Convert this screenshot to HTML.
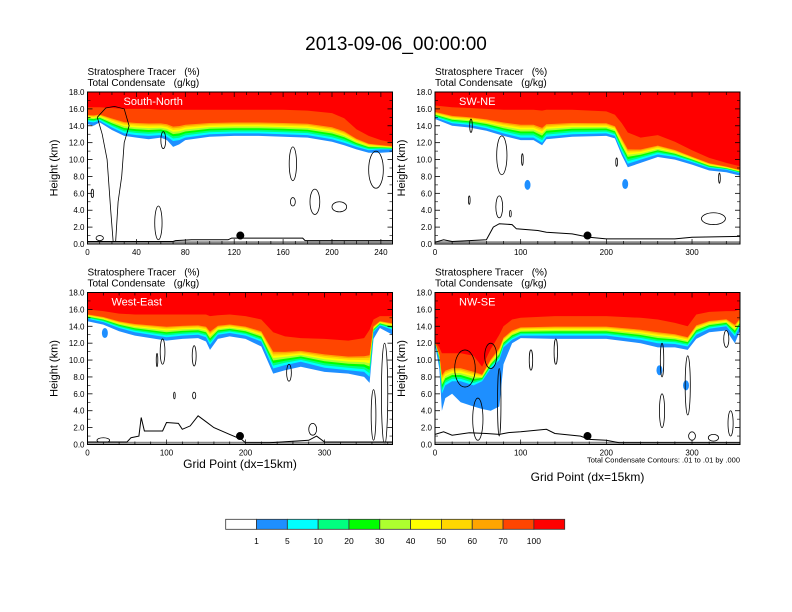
<!DOCTYPE html>
<html><head><meta charset="utf-8"><style>
html,body{margin:0;padding:0;background:#fff;}
svg{display:block;font-family:"Liberation Sans",Arial,sans-serif;}
text{white-space:pre;}
</style></head><body>
<svg id="fig" width="792" height="612" viewBox="0 0 792 612" xmlns="http://www.w3.org/2000/svg">
<text x="396" y="50" font-size="19" text-anchor="middle" fill="#000">2013-09-06_00:00:00</text>
<g id="panels"></g>
<g id="colorbar"></g>
</svg>
<script>
// ---- data ----
const levelLabels = ["1","5","10","20","30","40","50","60","70","100"];
const levelColors = ["#ffffff","#1e8fff","#00ffff","#00ff80","#00ff00","#adff2f","#ffff00","#ffd700","#ffa500","#ff4500","#ff0000"];
const bandFracs = [0,0.08,0.15,0.22,0.29,0.35,0.41,0.46];

const p1Xs   = [0,5,10,20,30,40,50,60,65,70,75,80,100,120,140,160,180,200,210,220,230,240,250];
const p1Base1= [14.2,14.0,14.4,13.5,12.8,12.6,12.4,12.6,12.3,11.5,11.8,12.3,12.7,12.8,12.8,12.7,12.6,12.1,11.7,11.2,10.8,10.8,10.9];
const p1Base2= [14.5,14.4,14.6,13.8,13.1,12.9,12.8,12.9,12.7,12.2,12.3,12.6,13.0,13.1,13.1,13.0,12.9,12.4,12.0,11.5,11.1,11.2,11.2];
const p1Top  = [16.2,16.2,16.2,16.1,16.0,16.0,16.0,15.9,15.9,15.9,15.9,15.9,15.9,15.9,15.9,15.9,15.8,15.5,14.9,13.6,12.8,12.3,12.0];
const p1TerrX= [0,70,72,85,115,118,176,178,250];
const p1TerrY= [0.3,0.3,0.4,0.5,0.5,0.7,0.7,0.4,0.4];
const p1Ell  = [[168,9.5,3,2],[168,5,2,0.5],[186,5,4,1.5],[206,4.4,6,0.6],[236,8.8,6,2.2],[10,0.7,3,0.3],[58,2.5,3,2],[62,12.3,2,1],[4,6,1,0.5]];
const p1CloudX=[8,15,22,30,34,30,28,25,23,21,19,16,12,8];
const p1CloudY=[15,16.1,16.3,16,14,12,8,5,0.2,0.2,4,10,13,15];

const p2Xs   = [0,20,40,60,80,100,115,125,130,160,200,210,218,225,240,260,280,300,320,340,356];
const p2Base1= [14.8,14.0,13.8,13.4,12.8,12.3,12.3,11.7,12.4,12.7,12.8,12.5,10.5,9.1,9.6,10.3,10.0,9.4,8.7,8.5,8.1];
const p2Base2= [15.0,14.3,14.1,13.7,13.1,12.6,12.6,12.0,12.7,13.0,13.1,12.8,10.9,9.5,10.0,10.6,10.3,9.7,9.0,8.8,8.4];
const p2Top  = [16.4,16.2,16.1,16.0,15.9,15.9,15.9,15.8,15.9,15.9,15.7,15.3,14.3,13.2,12.6,12.9,12.1,11.1,10.2,9.6,9.2];
const p2TerrX= [0,10,20,60,68,75,90,95,120,130,160,180,200,280,300,356];
const p2TerrY= [0.2,0.5,0.3,0.5,2.0,2.4,2.3,1.8,1.6,1.4,1.2,0.8,0.6,0.6,0.8,0.9];
const p2Ell  = [[78,10.5,6,2.3],[102,10,1,0.7],[212,9.7,1,0.5],[332,7.8,1,0.6],[40,5.2,1,0.5],[75,4.4,4,1.3],[88,3.6,1,0.4],[325,3,14,0.7],[42,14,1.5,0.8]];
const p2BlobX= [222,108];
const p2BlobY= [7.1,7.0];

const p3Xs   = [0,20,40,60,80,100,120,140,150,155,165,180,200,220,235,250,270,300,330,350,357,362,370,386];
const p3Base1= [14.6,14.2,13.4,12.9,12.6,12.3,12.5,12.6,12.2,11.2,12.5,12.8,12.5,11.6,8.4,8.8,9.2,8.6,8.4,8.0,7.3,12.5,13.8,13.0];
const p3Base2= [14.9,14.5,13.8,13.3,13.0,12.7,12.9,13.0,12.7,11.8,13.0,13.2,12.9,12.2,9.0,9.4,9.8,9.1,8.8,8.6,8.0,13.3,14.1,13.6];
const p3Top  = [16.0,15.8,15.5,15.4,15.4,15.4,15.4,15.4,15.4,15.2,15.3,15.4,15.2,14.8,13.3,12.8,12.6,12.5,12.3,12.6,13.6,14.8,15.2,15.2];
const p3TerrX= [0,50,55,65,68,72,95,100,115,120,130,140,150,160,180,195,200,230,280,290,300,386];
const p3TerrY= [0.3,0.3,0.8,1.0,3.2,1.6,1.6,2.6,2.5,1.8,2.2,3.4,2.7,2.0,1.2,0.6,0.2,0.2,0.5,1.0,0.3,0.3];
const p3Ell  = [[95,11,3,1.5],[135,10.5,2.5,1.2],[88,10,1,0.8],[255,8.5,3,1],[362,3.5,3,3],[376,6,4,6],[20,0.5,8,0.3],[285,1.8,5,0.7],[110,5.8,1,0.4],[135,5.8,2,0.4]];
const p3BlobX= [22];
const p3BlobY= [13.2];

const p4Xs   = [0,5,8,12,20,30,45,55,65,75,80,90,100,140,200,240,260,280,295,305,320,340,350,356];
const p4Base1= [11.8,9.0,4.0,5.5,6.0,5.0,4.5,4.2,4.0,4.5,9.5,12.0,12.6,12.5,12.5,12.0,11.5,11.5,11.2,12.5,13.3,13.5,12.0,13.5];
const p4Base2= [12.0,10.0,6.0,7.0,7.5,7.5,7.0,7.5,9.0,10.0,11.5,12.4,12.9,12.9,12.9,12.4,12.0,11.9,11.6,13.0,13.7,14.0,12.8,14.0];
const p4Top  = [12.2,11.5,10.8,10.8,10.8,10.8,10.5,9.2,11.3,13.0,14.0,14.8,15.0,15.2,15.2,15.0,14.8,14.4,14.0,15.4,15.7,15.8,15.8,16.0];
const p4TerrX= [0,10,20,40,60,75,85,100,130,140,170,180,200,215,356];
const p4TerrY= [1.2,1.5,1.1,1.4,1.3,1.2,1.4,1.5,1.8,1.3,1.0,0.6,0.5,0.2,0.2];
const p4Ell  = [[35,9,12,2.2],[65,10.5,7,1.5],[112,10,2,1.2],[141,11,2,1.5],[265,4,3,2],[265,10,2,2],[295,7,3,3.5],[340,12.5,3,1],[300,1,4,0.5],[325,0.8,6,0.4],[345,2.5,3,1.5],[50,3,6,2.5],[75,5,2,4]];
const p4BlobX= [262,293];
const p4BlobY= [8.8,7.0];

const yTicks = [0,2,4,6,8,10,12,14,16,18];

const panels = [
 {name:"south-north",label:"South-North",x0:87.5,y0:92,w:305,h:152,xmax:249.5,xt:[0,40,80,120,160,200,240],xm:10,xs:p1Xs,b1:p1Base1,b2:p1Base2,top:p1Top,tx:p1TerrX,ty:p1TerrY,ell:p1Ell,cx:p1CloudX,cy:p1CloudY,bx:[],by:[],dot:125,xtitle:false},
 {name:"sw-ne",label:"SW-NE",x0:435,y0:92,w:305,h:152,xmax:356,xt:[0,100,200,300],xm:20,xs:p2Xs,b1:p2Base1,b2:p2Base2,top:p2Top,tx:p2TerrX,ty:p2TerrY,ell:p2Ell,cx:null,cy:null,bx:p2BlobX,by:p2BlobY,dot:178,xtitle:false},
 {name:"west-east",label:"West-East",x0:87.5,y0:292.5,w:305,h:152,xmax:386,xt:[0,100,200,300],xm:20,xs:p3Xs,b1:p3Base1,b2:p3Base2,top:p3Top,tx:p3TerrX,ty:p3TerrY,ell:p3Ell,cx:null,cy:null,bx:p3BlobX,by:p3BlobY,dot:193,xtitle:true},
 {name:"nw-se",label:"NW-SE",x0:435,y0:292.5,w:305,h:152,xmax:356,xt:[0,100,200,300],xm:20,xs:p4Xs,b1:p4Base1,b2:p4Base2,top:p4Top,tx:p4TerrX,ty:p4TerrY,ell:p4Ell,cx:null,cy:null,bx:p4BlobX,by:p4BlobY,dot:178,xtitle:true,note:true}
];

const NS="http://www.w3.org/2000/svg";
function mk(tag,attrs,parent){const e=document.createElementNS(NS,tag);for(const k in attrs)e.setAttribute(k,attrs[k]);if(parent)parent.appendChild(e);return e;}
const root=document.getElementById("panels");

panels.forEach((p,pi)=>{
  const g=mk("g",{},root);
  
  
  const X=v=>p.x0+v/p.xmax*p.w;
  const Y=v=>p.y0+p.h-v/18*p.h;
  const clipId="clip"+pi;
  const cp=mk("clipPath",{id:clipId},g);mk("rect",{x:p.x0,y:p.y0,width:p.w,height:p.h},cp);
  const plot=mk("g",{"clip-path":"url(#"+clipId+")"},g);
  const red=mk("rect",{x:p.x0,y:p.y0,width:p.w,height:p.h,fill:levelColors[10]},plot);
  
  
  const boundary=k=>p.xs.map((x,i)=>{
    if(k===0) return p.b1[i];
    if(k===9) return p.top[i];
    return p.b2[i]+bandFracs[k-1]*(p.top[i]-p.b2[i]);
  });
  for(let k=9;k>=0;k--){
    const hb=boundary(k);
    let d="M"+X(p.xs[0])+","+Y(0);
    p.xs.forEach((x,i)=>{d+=" L"+X(x).toFixed(1)+","+Y(hb[i]).toFixed(1);});
    d+=" L"+X(p.xmax)+","+Y(hb[hb.length-1]).toFixed(1)+" L"+X(p.xmax)+","+Y(0)+" Z";
    const path=mk("path",{d:d,fill:levelColors[k]},plot);
    
    
  }
  p.bx.forEach((bx,i)=>{
    const b=mk("ellipse",{cx:X(bx),cy:Y(p.by[i]),rx:3,ry:5,fill:levelColors[1]},plot);
    
    
  });
  p.ell.forEach(e=>{
    const c=mk("ellipse",{cx:X(e[0]),cy:Y(e[1]),rx:e[2]/p.xmax*p.w,ry:e[3]/18*p.h,fill:"none",stroke:"#000","stroke-width":0.8},plot);
    
    
  });
  if(p.cx){
    const pts=p.cx.map((x,i)=>X(x).toFixed(1)+","+Y(p.cy[i]).toFixed(1)).join(" ");
    const pl=mk("polyline",{points:pts,fill:"none",stroke:"#000","stroke-width":0.8},plot);
    
    
  }
  const gl=mk("line",{x1:p.x0,x2:p.x0+p.w,y1:Y(0.2),y2:Y(0.2),stroke:"#888","stroke-width":2},plot);
  
  
  let td="";
  p.tx.forEach((x,i)=>{td+=(i?" L":"M")+X(x).toFixed(1)+","+Y(p.ty[i]).toFixed(1);});
  const tp=mk("path",{d:td,fill:"none",stroke:"#000","stroke-width":1},plot);
  
  
  const dot=mk("circle",{cx:X(p.dot),cy:Y(1.0),r:4,fill:"#000"},g);
  
  
  const fr=mk("rect",{x:p.x0,y:p.y0,width:p.w,height:p.h,fill:"none",stroke:"#000","stroke-width":1},g);
  
  
  yTicks.forEach(v=>{
    const y=Y(v);
    mk("line",{x1:p.x0,x2:p.x0+5,y1:y,y2:y,stroke:"#000","stroke-width":0.8},g);
    mk("line",{x1:p.x0+p.w,x2:p.x0+p.w-5,y1:y,y2:y,stroke:"#000","stroke-width":0.8},g);
    const t=mk("text",{x:p.x0-3,y:y+3,"font-size":8,"text-anchor":"end",fill:"#000"},g);
    t.textContent=v.toFixed(1);
    
    
    if(v<18){const ym=Y(v+1);
      mk("line",{x1:p.x0,x2:p.x0+3,y1:ym,y2:ym,stroke:"#000","stroke-width":0.6},g);
      mk("line",{x1:p.x0+p.w,x2:p.x0+p.w-3,y1:ym,y2:ym,stroke:"#000","stroke-width":0.6},g);}
  });
  for(let v=0;v<=p.xmax;v+=p.xm){
    const x=X(v);const major=p.xt.indexOf(v)>=0;const L=major?5:3;
    mk("line",{x1:x,x2:x,y1:p.y0+p.h,y2:p.y0+p.h-L,stroke:"#000","stroke-width":0.7},g);
    mk("line",{x1:x,x2:x,y1:p.y0,y2:p.y0+L,stroke:"#000","stroke-width":0.7},g);
  }
  p.xt.forEach(v=>{
    const t=mk("text",{x:X(v),y:p.y0+p.h+11,"font-size":8,"text-anchor":"middle",fill:"#000"},g);
    t.textContent=String(v);
    
    
  });
  const s1=mk("text",{x:p.x0,y:p.y0-17,"font-size":10,fill:"#000"},g);
  s1.textContent="Stratosphere Tracer   (%)";
  
  
  const s2=mk("text",{x:p.x0,y:p.y0-6,"font-size":10,fill:"#000"},g);
  s2.textContent="Total Condensate   (g/kg)";
  
  
  const lab=mk("text",{x:X(0)+(pi===0?36:24),y:p.y0+13,"font-size":11,fill:"#fff"},g);
  lab.textContent=p.label;
  
  
  const yt=mk("text",{x:0,y:0,"font-size":11,"text-anchor":"middle",fill:"#000",transform:"translate("+(p.x0-30)+","+(p.y0+p.h/2)+") rotate(-90)"},g);
  yt.textContent="Height (km)";
  
  
  if(p.xtitle){
    const xt=mk("text",{x:p.x0+p.w/2,y:p.note?481:468,"font-size":12,"text-anchor":"middle",fill:"#000"},g);
    xt.textContent="Grid Point (dx=15km)";
    
    
  }
  if(p.note){
    const n=mk("text",{x:p.x0+p.w,y:p.y0+p.h+18,"font-size":7.5,"text-anchor":"end",fill:"#000"},g);
    n.textContent="Total Condensate Contours: .01 to .01 by .000";
    
    
  }
});

const cb=document.getElementById("colorbar");
const cbX=225.7, cbW=339/11, cbY=519.3, cbH=10;
levelColors.forEach((c,i)=>{
  const r=mk("rect",{x:cbX+i*cbW,y:cbY,width:cbW,height:cbH,fill:c,stroke:"#333","stroke-width":0.8},cb);
  
  
});
levelLabels.forEach((l,i)=>{
  const t=mk("text",{x:cbX+(i+1)*cbW,y:544,"font-size":8.5,"text-anchor":"middle",fill:"#000"},cb);
  t.textContent=l;
  
  
});
</script>
</body></html>
